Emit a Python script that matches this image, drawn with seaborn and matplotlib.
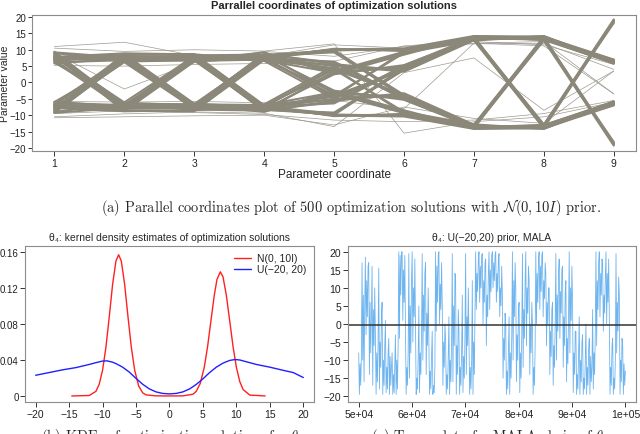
import matplotlib
matplotlib.use("Agg")
import matplotlib.pyplot as plt
import numpy as np
import pandas as pd
import seaborn as sns

# ─────────────────────────────────────────────────────────────────
# Data
# ─────────────────────────────────────────────────────────────────

coords = [1, 2, 3, 4, 5, 6, 7, 8, 9]

# representative optimization solutions (one row = one polyline)
solutions = [
    [7.2, 7.9, 7.5, 8.0, 9.5, -4.5, -13.5, -13.5, -6.5],
    [-7.9, 7.2, 7.0, 7.6, 9.9, -4.0, -13.9, -13.1, -6.9],
    [8.6, -7.5, 7.9, 8.4, 9.8, 10.2, 13.8, 13.6, 6.2],
    [-6.5, -8.2, 7.2, 7.4, 10.3, 9.6, 13.3, 14.0, 5.8],
    [6.2, 6.8, -7.8, 7.9, 5.0, 4.0, 13.2, -13.8, -6.8],
    [-8.8, 8.5, -7.2, 8.8, 5.6, 3.6, 13.6, -13.4, -6.3],
    [9.0, -6.6, -8.4, 7.1, -3.0, -4.8, -13.0, 13.4, -19.0],
    [-7.1, -7.0, -6.6, 8.2, -2.5, -5.3, -13.5, 13.9, -18.6],
    [7.8, 8.9, 8.6, 6.8, 3.0, 9.0, 13.6, 13.2, 5.8],
    [-6.0, 6.4, 6.8, 9.2, 2.6, 8.5, 14.1, 13.7, 6.3],
    [8.3, -8.8, 6.4, 7.7, -4.5, 4.2, 13.9, -13.2, 18.5],
    [-9.3, -7.7, 8.1, 6.6, -5.0, 4.7, 13.4, -13.7, 18.9],
    [5.8, 7.5, -6.9, 8.6, 6.0, -5.2, -13.8, 13.8, 6.4],
    [-8.2, 6.2, -8.0, 7.3, 6.4, -4.6, -13.3, 13.3, 6.0],
    [6.8, -7.3, -7.5, 8.1, 4.0, -9.0, -12.8, -14.2, -6.2],
    [-7.5, -8.5, -8.8, 6.9, 4.4, -9.5, -13.2, -13.8, -6.6],
    [7.6, 7.1, 7.7, 7.8, 10.1, 10.4, 14.2, 13.9, 6.5],
    [-8.4, 8.0, -7.4, 8.3, 9.2, -3.8, -13.7, -13.0, -6.0],
    [9.4, -6.9, 6.6, 7.0, 5.3, 3.3, 12.9, -14.0, -7.0],
    [-6.8, -7.8, 8.3, 8.5, 3.4, 9.4, 13.9, 14.1, 6.0],
    [7.0, 8.3, -7.1, 7.5, 9.6, -4.3, -14.0, -13.7, -6.7],
    [-7.7, 6.9, 7.3, 7.9, 10.0, 10.0, 13.5, 13.3, 6.1],
    [6.5, -8.0, -7.9, 8.7, -3.4, -4.4, -13.3, 12.9, -19.3],
    [-9.0, -6.4, -6.8, 7.2, -4.0, 3.8, 13.7, -12.9, 18.2],
    [-7.4, -7.6, -7.8, -8.1, -9.5, 4.5, 13.5, 13.5, 6.5],
    [7.9, -7.1, -7.4, -7.5, -9.9, 4.1, 13.9, 13.1, 6.9],
    [-8.5, 7.7, -8.1, -8.3, -9.8, -10.2, -13.8, -13.6, -6.2],
    [6.6, 8.1, -7.0, -7.2, -10.3, -9.6, -13.3, -14.0, -5.8],
    [-6.3, -6.9, 7.6, -7.8, -5.0, -4.0, -13.2, 13.8, 6.8],
    [8.9, -8.4, 7.1, -8.7, -5.6, -3.6, -13.6, 13.4, 6.3],
    [-9.1, 6.7, 8.5, -7.0, 3.0, 4.8, 13.0, -13.4, 19.0],
    [7.2, 7.2, 6.7, -8.2, 2.5, 5.3, 13.5, -13.9, 18.6],
    [-7.8, -8.8, -8.5, -6.9, -3.0, -9.0, -13.6, -13.2, -5.8],
    [6.1, -6.3, -6.9, -9.0, -2.6, -8.5, -14.1, -13.7, -6.3],
    [-8.2, 8.7, -6.5, -7.6, 4.5, -4.2, -13.9, 13.2, -18.5],
    [9.2, 7.6, -8.2, -6.7, 5.0, -4.7, -13.4, 13.7, -18.9],
    [-5.9, -7.4, 7.0, -8.5, -6.0, 5.2, 13.8, -13.8, -6.4],
    [8.1, -6.1, 8.0, -7.4, -6.4, 4.6, 13.3, -13.3, -6.0],
    [-6.9, 7.4, 7.6, -8.0, -4.0, 9.0, 12.8, 14.2, 6.2],
    [7.4, 8.4, 8.7, -7.1, -4.4, 9.5, 13.2, 13.8, 6.6],
    [-7.6, -7.0, -7.6, -7.7, -10.1, -10.4, -14.2, -13.9, -6.5],
    [8.4, -8.1, 7.3, -8.4, -9.2, 3.8, 13.7, 13.0, 6.0],
    [-9.3, 6.8, -6.7, -6.9, -5.3, -3.3, -12.9, 14.0, 7.0],
    [6.9, 7.9, -8.3, -8.6, -3.4, -9.4, -13.9, -14.1, -6.0],
    [-7.0, -8.3, 7.2, -7.3, -9.6, 4.3, 14.0, 13.7, 6.7],
    [7.7, -6.8, -7.2, -7.9, -10.0, -10.0, -13.5, -13.3, -6.1],
    [-6.6, 8.0, 8.1, -8.8, 3.4, 4.4, 13.3, -12.9, 19.3],
    [9.0, 6.5, 6.9, -7.2, 4.0, -3.8, -13.7, 12.9, -18.2],
]

# a few stray solutions drawn as thin lines
stray_solutions = [
    [-10.5, -9.6, -9.0, -9.4, -13.5, 3.0, 7.5, -8.5, 3.5],
    [11.0, 12.3, 8.2, 8.0, 11.5, 10.5, 12.0, 12.5, -3.5],
    [10.5, 9.5, 10.0, 9.6, 11.8, -15.5, -12.0, -10.5, -6.0],
    [-10.8, -10.5, -10.2, -10.0, -13.0, -7.5, -11.0, -12.5, 3.5],
    [5.2, 5.0, 5.5, 5.8, 6.5, 11.2, 12.5, 11.5, 5.5],
    [-5.8, -6.0, -5.8, -6.2, -5.5, -8.0, 12.0, 11.2, -3.5],
    [9.0, -2.0, 6.0, 9.5, 8.0, 11.0, 11.8, 12.0, 4.0],
    [-9.5, -8.7, -9.2, -9.8, -11.5, -12.0, -11.5, -9.5, -5.5],
]

# KDE of theta_4 under N(0, 10I) prior
kde_x_normal = [-14.6, -12.0, -11.0, -10.5, -10.0, -9.5, -9.0, -8.5, -8.0, -7.6,
                -7.2, -6.7, -6.2, -5.7, -5.2, -4.6, -4.0, -3.5, -2.0, 0.0,
                2.0, 3.5, 4.0, 4.6, 5.2, 5.7, 6.2, 6.7, 7.1, 7.6,
                8.0, 8.5, 9.0, 9.5, 10.0, 10.5, 11.0, 12.0, 14.3]
kde_y_normal = [0.0, 0.0005, 0.0051, 0.013, 0.0286, 0.054, 0.088, 0.124, 0.150, 0.157,
                0.150, 0.124, 0.088, 0.054, 0.0286, 0.011, 0.0034, 0.0012, 0.0001, 0.0,
                0.0001, 0.0019, 0.0051, 0.0139, 0.0318, 0.055, 0.0837, 0.112, 0.1295, 0.138,
                0.1325, 0.112, 0.0837, 0.055, 0.0318, 0.0162, 0.0072, 0.001, 0.0]

# KDE of theta_4 under U(-20, 20) prior
kde_x_unif = [-20, -18, -16, -14, -12, -11, -10, -9.3, -8.5, -8, -7, -6, -5, -4, -3,
              -2, -1, 0, 1, 2, 3, 4, 5, 6, 7, 8, 9, 9.8, 10.5, 11.5, 13, 15, 17,
              18.5, 20]
kde_y_unif = [0.023, 0.026, 0.029, 0.0315, 0.035, 0.037, 0.0388, 0.039, 0.0375, 0.036,
              0.032, 0.0265, 0.0195, 0.013, 0.0078, 0.0045, 0.0028, 0.0023, 0.0028,
              0.0045, 0.0078, 0.0128, 0.019, 0.026, 0.032, 0.0365, 0.0395, 0.0405,
              0.040, 0.038, 0.035, 0.032, 0.0285, 0.026, 0.0205]

# MALA chain of theta_4, iterations 5e4 .. 1e5 (thinned)
trace_theta4 = [
    -8, -19.5, -11, -17, -9, 17, -10, 8, -16, 5,
    18.5, -3, 12, 2, 16, 17, -14, 6, -8, 2,
    16, -17, 4, -6, 10, -3, -19.5, -8, -16, -5,
    15.5, -18, -5, -12, 2, 6, -19.5, -10, -17, -6,
    1, -19, -12, -18, -8, -4, -19.5, -9, -17, -12,
    -8, -19.5, -14, -19, -11, -3, -19.5, -10, -18, -6,
    20, -4, 19, 8, 20, 20, 1, 15, 6, 19,
    -2, -19.5, -12, -17, -8, 19.5, -15, 5, -8, 12,
    20, -5, 10, 2, 18, -2, -19.5, -15, -18, -9,
    5, -19, -8, -14, -2, 19.5, -10, 8, -2, 14,
    17, -14, 3, -6, 10, -5, -19.5, -13, -18, -9,
    -2, -19.5, -17, -19, -12, 20, -2, 16, 6, 19,
    20, 0, 11, 4, 17, 6, -17, -5, -12, 0,
    -4, -19.5, -14, -18, -9, 2, -19.5, -10, -16, -4,
    19.5, -16, 5, -6, 14, 13, -19.5, -6, -14, 4,
    -2, -19.5, -12, -17, -7, 8, -19, -9, -15, -3,
    19.5, -14, 2, -6, 10, -6, -19.5, -12, -18, -10,
    12, -19.5, -5, -14, 3, 20, 4, 14, 9, 18,
    20, 6, 16, 10, 19, 19.5, 0, 12, 6, 17,
    18, -6, 8, 2, 14, 20, 4, 15, 9, 19,
    20, 10, 17, 12, 19, 20, 6, 14, 9, 18,
    19.5, 2, 10, 5, 16, 8, -15, -4, -10, 3,
    0, -19.5, -13, -18, -8, 2, -19.5, -8, -15, -3,
    20, -10, 12, 2, 17, 10, -16, -3, -10, 4,
    6, -19, -8, -15, -2, 19.5, -12, 4, -4, 12,
    20, -6, 10, 3, 16, 12, -14, 0, -8, 6,
    0, -19.5, -12, -17, -6, 20, 0, 14, 6, 18,
    20, 4, 16, 9, 19, 20, 2, 12, 7, 17,
    14, -6, 6, 0, 10, 10, -14, -2, -9, 4,
    6, -17, -6, -12, 0, 19.5, -10, 8, -2, 14,
    18, -4, 9, 3, 15, 16, -12, 2, -6, 9,
    12, -16, -4, -11, 3, 20, -8, 10, 1, 16,
    6, -19, -8, -14, -2, -2, -19.5, -14, -18, -8,
    2, -19.5, -10, -16, -5, -3, -19.5, -15, -18, -10,
    0, -19.5, -12, -17, -7, -4, -19.5, -9, -16, -12,
    4, -18, -8, -14, -2, 20, -6, 12, 4, 17,
    20, 2, 14, 8, 18, 17, -2, 8, 3, 13,
    20, 0, 14, 6, 18, 2, -19.5, -12, -17, -6,
    -4, -19.5, -15, -18, -10, 19.5, -8, 6, -2, 13,
    8, -19.5, -10, -16, -4, -6, -19.5, -11, -17, -13,
]
trace_start, trace_end = 50000, 100000
chain_mean = -0.4

LINE_GREY = "#8b887a"
FONT = ["Liberation Sans", "DejaVu Sans"]


def r_style(ax, labelsize=7.5):
    """Give an axes the look of base R graphics."""
    for s in ax.spines.values():
        s.set_color("#8c8c8c")
        s.set_linewidth(0.8)
    ax.tick_params(direction="out", length=3.5, width=0.7, color="#333333",
                   labelsize=labelsize, pad=1.5, labelcolor="#222222")


def to_long(rows, first_id=0):
    recs = []
    for i, row in enumerate(rows):
        for c, v in zip(coords, row):
            recs.append({"solution": first_id + i, "coordinate": c, "value": v})
    return pd.DataFrame(recs)


sns.set_theme(style="ticks")
plt.rcParams["font.family"] = FONT
plt.rcParams["mathtext.fontset"] = "cm"

fig = plt.figure(figsize=(6.4, 4.35), dpi=100)
ax_pc = fig.add_axes([0.05, 0.651, 0.944, 0.312])
ax_kde = fig.add_axes([0.039, 0.0736, 0.4516, 0.3586])
ax_tr = fig.add_axes([0.5438, 0.0736, 0.45, 0.3586])

# ── (a) parallel coordinates ──
sns.lineplot(data=to_long(stray_solutions, 1000), x="coordinate", y="value",
             units="solution", estimator=None, color="#9d9a8f", lw=0.5,
             legend=False, ax=ax_pc)
sns.lineplot(data=to_long(solutions), x="coordinate", y="value",
             units="solution", estimator=None, color=LINE_GREY, lw=1.5,
             legend=False, ax=ax_pc)
ax_pc.set_xlim(0.68, 9.32)
ax_pc.set_ylim(-20.9, 20.6)
ax_pc.set_xticks(coords)
ax_pc.set_yticks([-20, -15, -10, -5, 0, 5, 10, 15, 20])
r_style(ax_pc)
ax_pc.tick_params(axis="y", labelsize=7, pad=1, length=3)
ax_pc.set_xlabel("Parameter coordinate", fontsize=8.5, labelpad=0)
ax_pc.set_ylabel("Parameter value", fontsize=7.5)
ax_pc.yaxis.set_label_coords(-0.036, 0.5)
ax_pc.set_title("Parrallel coordinates of optimization solutions",
                fontsize=8, fontweight="bold", pad=5)

# ── (b) kernel density estimates ──
sns.lineplot(x=kde_x_normal, y=kde_y_normal, color="#ff2020", lw=1.0,
             label="N(0, 10I)", ax=ax_kde, sort=False)
sns.lineplot(x=kde_x_unif, y=kde_y_unif, color="#2020ff", lw=1.0,
             label="U(\u221220, 20)", ax=ax_kde, sort=False)
ax_kde.set_xlim(-21.6, 21.6)
ax_kde.set_ylim(-0.0067, 0.1667)
ax_kde.set_xticks([-20, -15, -10, -5, 0, 5, 10, 15, 20])
ax_kde.set_yticks([0, 0.04, 0.08, 0.12, 0.16])
ax_kde.set_yticklabels(["0", "0.04", "0.08", "0.12", "0.16"])
ax_kde.set_title("\u03b8\u2084: kernel density estimates of optimization solutions",
                 fontsize=7.5, pad=4)
ax_kde.legend(loc="upper right", frameon=False, fontsize=7.5, handlelength=1.6,
              handletextpad=0.6, labelspacing=0.1, borderaxespad=0.3)
r_style(ax_kde)
ax_kde.tick_params(axis="y", labelsize=7, pad=1)

# ── (c) MALA trace ──
iterations = np.linspace(trace_start, trace_end, len(trace_theta4))
sns.lineplot(x=iterations, y=trace_theta4, color="#55a7ec", lw=0.6, alpha=0.85,
             ax=ax_tr)
ax_tr.axhline(chain_mean, color="#333333", lw=1.1)
ax_tr.set_xlim(48000, 102000)
ax_tr.set_ylim(-21.6, 21.6)
ax_tr.set_xticks([50000, 60000, 70000, 80000, 90000, 100000])
ax_tr.set_xticklabels(["5e+04", "6e+04", "7e+04", "8e+04", "9e+04", "1e+05"])
ax_tr.set_yticks([-20, -15, -10, -5, 0, 5, 10, 15, 20])
ax_tr.set_title("\u03b8\u2084: U(\u221220,20) prior, MALA", fontsize=7.5, pad=4)
r_style(ax_tr)

# ── sub-captions (LaTeX document style) ──
fig.text(0.548, 1 - 207 / 435,
         r"(a) Parallel coordinates plot of 500 optimization solutions with $\mathcal{N}(0, 10I)$ prior.",
         family="cmr10", fontsize=10.4, ha="center", va="center")
fig.text(0.27, 1 - 427 / 435,
         r"(b) KDEs of optimization solutions for $\theta_4$",
         family="cmr10", fontsize=10.4, ha="center", va="top")
fig.text(0.766, 1 - 427 / 435,
         r"(c) Trace plot of a MALA chain of $\theta_4$",
         family="cmr10", fontsize=10.4, ha="center", va="top")

fig.savefig("out.png", dpi=100)
